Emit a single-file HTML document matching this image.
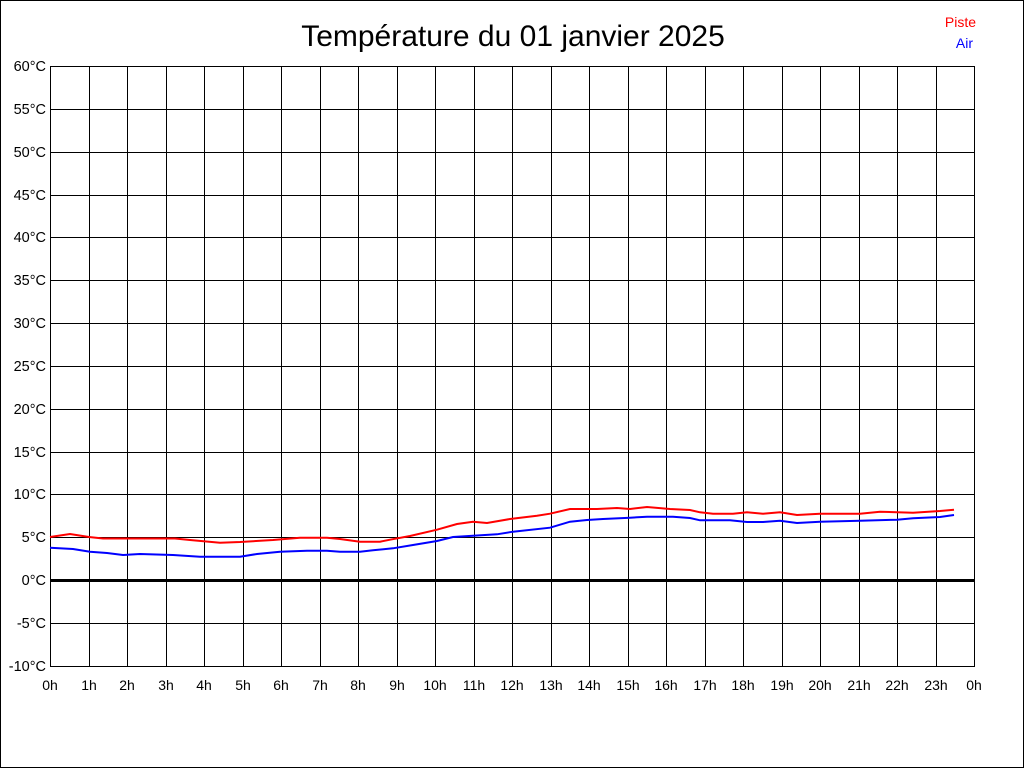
<!DOCTYPE html>
<html><head><meta charset="utf-8"><style>
html,body{margin:0;padding:0;background:#fff}
svg{display:block}
text{font-family:"Liberation Sans",Arial,sans-serif}
</style></head><body>
<svg width="1024" height="768" viewBox="0 0 1024 768" xmlns="http://www.w3.org/2000/svg" shape-rendering="crispEdges">
<rect x="0.5" y="0.5" width="1023" height="767" fill="#fff" stroke="#000" stroke-width="1"/>
<text x="513" y="46" font-size="30" text-anchor="middle" fill="#000">Température du 01 janvier 2025</text>
<text x="976" y="27" font-size="14" text-anchor="end" fill="#f00">Piste</text>
<text x="973" y="48" font-size="14" text-anchor="end" fill="#00f">Air</text>
<g stroke="#000" stroke-width="1" fill="none">
<path d="M50.5 66V666M89.5 66V666M127.5 66V666M166.5 66V666M204.5 66V666M243.5 66V666M281.5 66V666M320.5 66V666M358.5 66V666M397.5 66V666M435.5 66V666M474.5 66V666M512.5 66V666M551.5 66V666M589.5 66V666M628.5 66V666M666.5 66V666M705.5 66V666M743.5 66V666M782.5 66V666M820.5 66V666M859.5 66V666M897.5 66V666M936.5 66V666M974.5 66V666"/>
<path d="M50 66.5H975M50 109.5H975M50 152.5H975M50 195.5H975M50 237.5H975M50 280.5H975M50 323.5H975M50 366.5H975M50 409.5H975M50 452.5H975M50 494.5H975M50 537.5H975M50 623.5H975M50 666.5H975"/>
</g>
<rect x="50" y="579" width="925" height="3" fill="#000"/>
<g font-size="14.5" fill="#000" text-anchor="end">
<text x="46" y="71">60°C</text><text x="46" y="114">55°C</text><text x="46" y="157">50°C</text><text x="46" y="200">45°C</text><text x="46" y="242">40°C</text><text x="46" y="285">35°C</text><text x="46" y="328">30°C</text><text x="46" y="371">25°C</text><text x="46" y="414">20°C</text><text x="46" y="457">15°C</text><text x="46" y="499">10°C</text><text x="46" y="542">5°C</text><text x="46" y="585">0°C</text><text x="46" y="628">-5°C</text><text x="46" y="671">-10°C</text>
</g>
<g font-size="14" fill="#000" text-anchor="middle">
<text x="50" y="690">0h</text><text x="89" y="690">1h</text><text x="127" y="690">2h</text><text x="166" y="690">3h</text><text x="204" y="690">4h</text><text x="243" y="690">5h</text><text x="281" y="690">6h</text><text x="320" y="690">7h</text><text x="358" y="690">8h</text><text x="397" y="690">9h</text><text x="435" y="690">10h</text><text x="474" y="690">11h</text><text x="512" y="690">12h</text><text x="551" y="690">13h</text><text x="589" y="690">14h</text><text x="628" y="690">15h</text><text x="666" y="690">16h</text><text x="705" y="690">17h</text><text x="743" y="690">18h</text><text x="782" y="690">19h</text><text x="820" y="690">20h</text><text x="859" y="690">21h</text><text x="897" y="690">22h</text><text x="936" y="690">23h</text><text x="974" y="690">0h</text>
</g>
<polyline fill="none" stroke="#f00" stroke-width="2" shape-rendering="auto" points="50,537 70,534 89,537 103,538.5 175,538.5 190,540 220,542.7 240,542 273,540 300,537.7 327,537.7 340,539 360,541.7 380,541.7 390,539.7 410,536 437,529.7 457,524 473,521.7 487,523 510,519 537,515.7 550,513.7 570,509 597,509 617,508 630,509 647,507 670,509 690,510 700,512.3 713,513.7 733,513.7 747,512.3 763,513.7 780,512.3 797,515 820,513.7 860,513.7 880,511.7 913,512.7 940,511 954,509.7"/>
<polyline fill="none" stroke="#00f" stroke-width="2" shape-rendering="auto" points="50,547.7 73,549 90,551.7 107,553 123,555 140,554 173,555 200,556.7 240,556.7 257,554 280,551.7 307,550.7 327,550.7 340,551.7 360,551.7 373,550.3 393,548.3 413,545 437,541 453,537 473,535.7 497,534.3 513,531.7 550,527.7 570,521.7 587,520 603,519 630,517.7 647,516.7 673,516.7 690,518 700,520.3 730,520.3 747,522 763,522 780,520.7 797,523 820,521.7 860,520.7 897,519.7 913,518.3 940,517 954,515"/>
</svg>
</body></html>
